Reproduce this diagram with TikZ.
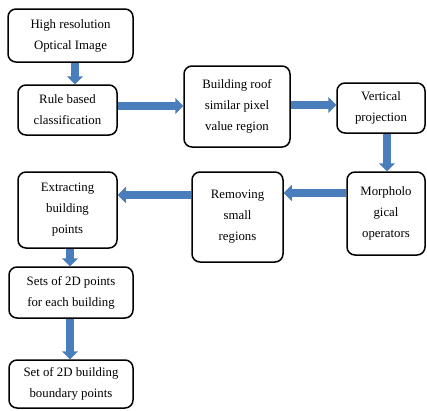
\documentclass[tikz,border=0pt]{standalone}
\usepackage{fontspec}
\setmainfont{Liberation Serif}
\usetikzlibrary{arrows.meta}
\definecolor{arrblue}{RGB}{74,125,187}
\tikzset{
  box/.style={draw=black, line width=1.5pt, rounded corners=8pt, align=center,
    inner sep=0pt, font=\fontsize{12.8}{21}\selectfont},
  arr/.style={draw=arrblue, line width=7.5pt,
    -{Triangle[width=16pt,length=8pt,fill=arrblue]}, shorten >=0pt}
}
\begin{document}
\begin{tikzpicture}[x=1pt,y=-1pt]
\useasboundingbox (0,0) rectangle (427,410);
\node[box, minimum width=125pt, minimum height=53pt] (b1) at (70.5,35.5) {High resolution\\Optical Image};
\node[box, minimum width=99pt, minimum height=50pt] (b2) at (67.5,110) {Rule based\\classification};
\node[box, minimum width=106pt, minimum height=81pt] (b3) at (237,106.5) {Building roof\\similar pixel\\value region};
\node[box, minimum width=88pt, minimum height=50pt] (b4) at (381,108) {Vertical\\projection};
\node[box, minimum width=78pt, minimum height=83pt] (b5) at (386,213.5) {Morpholo\\gical\\operators};
\node[box, minimum width=91pt, minimum height=90pt] (b6) at (237.5,217) {Removing\\small\\regions};
\node[box, minimum width=99pt, minimum height=76pt] (b7) at (67.5,210) {Extracting\\building\\points};
\node[box, minimum width=124pt, minimum height=51pt] (b8) at (71,292.5) {Sets of 2D points\\for each building};
\node[box, minimum width=124pt, minimum height=48pt] (b9) at (71,384) {Set of 2D building\\boundary points};

\draw[arr] ([xshift=4.5pt]b1.south) -- ([xshift=4.5pt]b1.south |- b2.north);
\draw[arr] ([yshift=4pt]b2.east) -- ([yshift=4pt]b2.east -| b3.west);
\draw[arr] ([yshift=1.5pt]b3.east) -- ([yshift=1.5pt]b3.east -| b4.west);
\draw[arr] ([xshift=6pt]b4.south) -- ([xshift=6pt]b4.south |- b5.north);
\draw[arr] ([yshift=20.5pt]b5.west) -- ([yshift=20.5pt]b5.west -| b6.east);
\draw[arr] ([yshift=22pt]b6.west) -- ([yshift=22pt]b6.west -| b7.east);
\draw[arr] ([xshift=2.5pt]b7.south) -- ([xshift=2.5pt]b7.south |- b8.north);
\draw[arr] ([xshift=-1pt]b8.south) -- ([xshift=-1pt]b8.south |- b9.north);
\end{tikzpicture}
\end{document}
